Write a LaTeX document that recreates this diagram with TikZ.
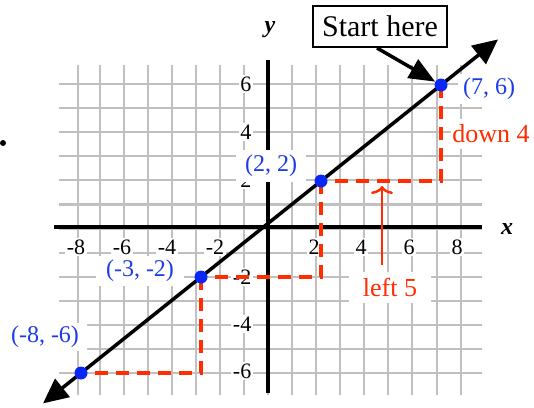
\documentclass[tikz,border=0pt]{standalone}
\usepackage{fontspec}
\setmainfont{Liberation Serif}
\usetikzlibrary{arrows.meta}
\definecolor{gridgray}{RGB}{192,192,192}
\definecolor{ptblue}{RGB}{10,40,245}
\definecolor{lblblue}{RGB}{30,60,230}
\definecolor{stepred}{RGB}{255,45,0}
\begin{document}
\begin{tikzpicture}[x=1pt,y=-1pt,
  gridline/.style={gridgray,line width=2.2pt},
  axisline/.style={black,line width=4.6pt},
  ticklbl/.style={fill=white,inner sep=1.5pt,font=\fontsize{22}{24}\selectfont},
  ptlbl/.style={fill=white,text=lblblue,font=\fontsize{24}{26}\selectfont,inner sep=0pt,minimum height=30pt},
  ptdot/.style={circle,fill=ptblue,minimum size=13pt,inner sep=0pt},
  steppath/.style={stepred,line width=4.6pt,dash pattern=on 13pt off 8pt},
  redlbl/.style={fill=white,text=stepred,font=\fontsize{26}{28}\selectfont,inner sep=0pt,minimum height=30pt},
  axislbl/.style={font=\fontsize{24}{26}\selectfont\bfseries\itshape},
  bigtip/.style={line width=3.5pt}
]
\useasboundingbox (0,0) rectangle (534,407);
% grid
\foreach \gx in {78,100,124,148,172,196,220,244,268,292,316,340,364,388,412,437,461}
  \draw[gridline] (\gx,65) -- (\gx,395);
\foreach \gy in {84,108.1,132.2,156.2,180.3,204.4,228.5,252.6,276.7,300.8,324.8,348.9,373}
  \draw[gridline] (59,\gy) -- (482,\gy);
% tick labels
\foreach \lx/\t [count=\i] in {76/-8,122/-6,167/-4,215/-2,314/2,361/4,409/6,457/8}
  \node[ticklbl] (xt\i) at (\lx,247) {\t};
\foreach \ly/\t [count=\i] in {84/6,132/4,180/2,277/-2,324/-4,371/-6}
  \node[ticklbl,anchor=east] (yt\i) at (253,\ly) {\t};
% axes
\draw[axisline] (54,227) -- (482,227);
\draw[axisline] (268,60) -- (268,393);
\node[axislbl] (xl) at (507,229) {x};
\node[axislbl] (yl) at (270,30) {y};
% points
\coordinate (c1) at (441,85);
\coordinate (c2) at (321,181);
\coordinate (c3) at (201,277);
\coordinate (c4) at (81,373);
\coordinate (eL) at (43,403.4);
\coordinate (eR) at (498,39.4);
% steps
\draw[steppath] (c1) |- (c2);
\draw[steppath] (c2) |- (c3);
\draw[steppath] (c3) |- (c4);
% main line
\draw[bigtip,{Triangle[length=25pt,width=23pt]}-{Triangle[length=25pt,width=23pt]}] (eL) -- (eR);
\node[ptdot] (P1) at (c1) {};
\node[ptdot] (P2) at (c2) {};
\node[ptdot] (P3) at (c3) {};
\node[ptdot] (P4) at (c4) {};
% labels
\node[ptlbl,minimum width=62pt] (L1) at (489,89) {(7, 6)};
\node[ptlbl,minimum width=70pt,minimum height=32pt] (L2) at (271,166) {(2, 2)};
\node[ptlbl,minimum width=88pt] (L3) at (140,271) {(-3, -2)};
\node[ptlbl,minimum width=84pt,minimum height=28pt] (L4) at (45,337) {(-8, -6)};
\node[redlbl,minimum width=80pt] (d4) at (491,134) {down 4};
\node[redlbl,minimum width=82pt,minimum height=31pt] (l5) at (390,287.5) {left 5};
\coordinate (l5base) at (382,265);
\coordinate (l5tip) at (382,186);
\draw[stepred,line width=2.4pt,-{To[length=8pt,width=22pt]}] (l5base) -- (l5tip);
% start here
\node[draw,line width=2pt,fill=white,minimum width=134pt,minimum height=41pt,inner sep=0pt,font=\fontsize{30}{32}\selectfont] (sh) at (380,26.5) {Start here};
\draw[bigtip,-{Triangle[length=26pt,width=21pt]}] ([xshift=-3pt]sh.south) -- (P1);
% stray dot
\fill (3,143) circle (3pt);
\end{tikzpicture}
\end{document}
